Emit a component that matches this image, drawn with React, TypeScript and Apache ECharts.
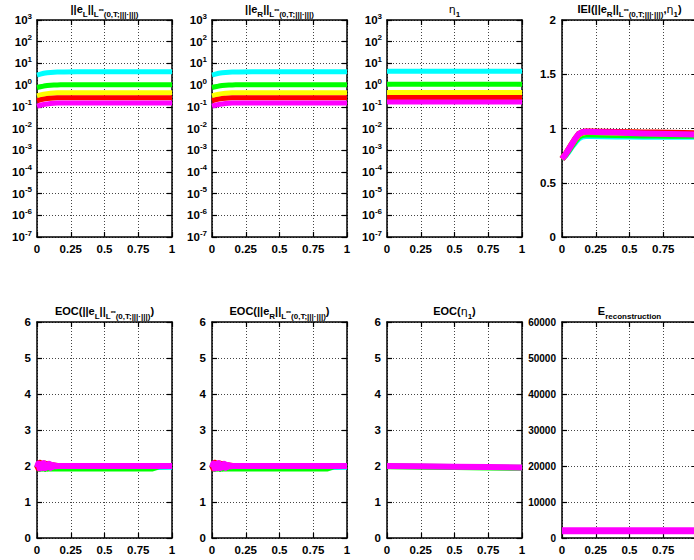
import React, { useEffect, useRef } from "react";
import * as echarts from "echarts";

// ---------- data ----------
const xNorm = [0, 0.025, 0.05, 0.075, 0.1, 0.125, 0.15, 0.175, 0.2, 0.3, 0.4, 0.5, 0.6, 0.7, 0.8, 0.9, 1];
const eLCyan = [2.9, 3.2, 3.5, 3.7, 3.85, 3.95, 4.0, 4.05, 4.05, 4.1, 4.1, 4.1, 4.1, 4.1, 4.1, 4.1, 4.1];
const eLGreen = [0.78, 0.84, 0.9, 0.95, 0.98, 1.0, 1.02, 1.03, 1.03, 1.03, 1.03, 1.03, 1.03, 1.03, 1.03, 1.03, 1.03];
const eLYellow = [0.32, 0.35, 0.38, 0.4, 0.42, 0.43, 0.44, 0.44, 0.44, 0.44, 0.44, 0.44, 0.44, 0.44, 0.44, 0.44, 0.44];
const eLRed = [0.19, 0.21, 0.225, 0.24, 0.25, 0.255, 0.26, 0.26, 0.26, 0.26, 0.26, 0.26, 0.26, 0.26, 0.26, 0.26, 0.26];
const eLMagenta = [0.107, 0.118, 0.128, 0.136, 0.142, 0.146, 0.15, 0.15, 0.15, 0.15, 0.15, 0.15, 0.15, 0.15, 0.15, 0.15, 0.15];

const eRCyan = [2.9, 3.2, 3.5, 3.7, 3.85, 3.95, 4.0, 4.05, 4.05, 4.1, 4.1, 4.1, 4.1, 4.1, 4.1, 4.1, 4.1];
const eRGreen = [0.78, 0.84, 0.9, 0.95, 0.98, 1.0, 1.02, 1.03, 1.03, 1.03, 1.03, 1.03, 1.03, 1.03, 1.03, 1.03, 1.03];
const eRYellow = [0.32, 0.35, 0.38, 0.4, 0.42, 0.43, 0.44, 0.44, 0.44, 0.44, 0.44, 0.44, 0.44, 0.44, 0.44, 0.44, 0.44];
const eRRed = [0.19, 0.21, 0.225, 0.24, 0.25, 0.255, 0.26, 0.26, 0.26, 0.26, 0.26, 0.26, 0.26, 0.26, 0.26, 0.26, 0.26];
const eRMagenta = [0.107, 0.118, 0.128, 0.136, 0.142, 0.146, 0.15, 0.15, 0.15, 0.15, 0.15, 0.15, 0.15, 0.15, 0.15, 0.15, 0.15];

const xEta = [0, 0.5, 1];
const etaCyan = [4.3, 4.3, 4.3];
const etaGreen = [1.1, 1.1, 1.1];
const etaYellow = [0.46, 0.46, 0.46];
const etaRed = [0.27, 0.27, 0.27];
const etaMagenta = [0.165, 0.165, 0.165];

const ieiCyan = [0.72, 0.75, 0.79, 0.835, 0.875, 0.91, 0.925, 0.93, 0.93, 0.928, 0.927, 0.926, 0.925, 0.925, 0.924, 0.924, 0.923];
const ieiGreen = [0.72, 0.755, 0.8, 0.845, 0.89, 0.925, 0.94, 0.945, 0.945, 0.942, 0.94, 0.938, 0.936, 0.935, 0.934, 0.933, 0.932];
const ieiYellow = [0.72, 0.76, 0.81, 0.86, 0.905, 0.945, 0.96, 0.967, 0.967, 0.965, 0.963, 0.961, 0.959, 0.957, 0.955, 0.953, 0.951];
const ieiRed = [0.72, 0.76, 0.81, 0.86, 0.91, 0.95, 0.965, 0.972, 0.972, 0.97, 0.968, 0.966, 0.964, 0.962, 0.96, 0.958, 0.956];
const ieiMagenta = [0.72, 0.76, 0.81, 0.86, 0.91, 0.95, 0.965, 0.97, 0.97, 0.966, 0.962, 0.958, 0.955, 0.952, 0.949, 0.946, 0.944];

const xEoc = [0, 0.01, 0.02, 0.03, 0.04, 0.05, 0.06, 0.07, 0.08, 0.09, 0.1, 0.11, 0.12, 0.13, 0.14, 0.15, 0.2, 0.3, 0.4, 0.5, 0.6, 0.7, 0.8, 0.85, 0.9, 1];
const eocLCyan = [1.95, 2.02, 1.94, 2.0, 1.96, 2.01, 1.95, 1.99, 1.96, 1.98, 1.96, 1.97, 1.96, 1.96, 1.96, 1.96, 1.96, 1.96, 1.96, 1.96, 1.96, 1.96, 1.96, 1.96, 1.97, 1.98];
const eocLGreen = [1.94, 2.03, 1.92, 2.02, 1.93, 2.03, 1.92, 2.0, 1.93, 1.98, 1.93, 1.95, 1.93, 1.93, 1.93, 1.93, 1.93, 1.93, 1.93, 1.93, 1.93, 1.93, 1.93, 1.93, 1.99, 2.0];
const eocLRed = [2.02, 1.94, 2.09, 1.95, 2.06, 1.96, 2.07, 1.97, 2.05, 1.98, 2.03, 1.99, 2.02, 2.0, 2.01, 2.0, 2.0, 2.0, 2.0, 2.0, 2.0, 2.0, 2.0, 2.0, 2.0, 2.0];
const eocLMagenta = [1.96, 2.07, 1.93, 2.05, 1.95, 2.08, 1.94, 2.04, 1.97, 2.06, 1.95, 2.03, 1.98, 2.02, 1.99, 2.0, 2.0, 2.0, 2.0, 2.0, 2.0, 2.0, 2.0, 2.0, 2.0, 2.0];

const eocRCyan = [1.95, 2.02, 1.94, 2.0, 1.96, 2.01, 1.95, 1.99, 1.96, 1.98, 1.96, 1.97, 1.96, 1.96, 1.96, 1.96, 1.96, 1.96, 1.96, 1.96, 1.96, 1.96, 1.96, 1.96, 1.97, 1.98];
const eocRGreen = [1.94, 2.03, 1.92, 2.02, 1.93, 2.03, 1.92, 2.0, 1.93, 1.98, 1.93, 1.95, 1.93, 1.93, 1.93, 1.93, 1.93, 1.93, 1.93, 1.93, 1.93, 1.93, 1.93, 1.93, 1.99, 2.0];
const eocRRed = [2.02, 1.94, 2.09, 1.95, 2.06, 1.96, 2.07, 1.97, 2.05, 1.98, 2.03, 1.99, 2.02, 2.0, 2.01, 2.0, 2.0, 2.0, 2.0, 2.0, 2.0, 2.0, 2.0, 2.0, 2.0, 2.0];
const eocRMagenta = [1.96, 2.07, 1.93, 2.05, 1.95, 2.08, 1.94, 2.04, 1.97, 2.06, 1.95, 2.03, 1.98, 2.02, 1.99, 2.0, 2.0, 2.0, 2.0, 2.0, 2.0, 2.0, 2.0, 2.0, 2.0, 2.0];

const xEocEta = [0, 0.25, 0.5, 0.75, 1];
const eocEtaGreen = [1.99, 1.98, 1.97, 1.96, 1.95];
const eocEtaMagenta = [2.0, 1.99, 1.98, 1.97, 1.96];

const xRec = [0, 0.5, 1];
const recMagenta = [2000, 2000, 2000];

const C_CYAN = "#00ffff";
const C_GREEN = "#00ff00";
const C_YELLOW = "#ffff00";
const C_RED = "#ff0000";
const C_MAGENTA = "#ff00ff";

const FONT = '"Liberation Sans", Arial, Helvetica, sans-serif';

const NORM = "{s|L}{sup|∞}{s|(0,T;|||·|||)}";
const titles = [
  "{m|||e}{s|L}{m|||}" + NORM,
  "{m|||e}{s|R}{m|||}" + NORM,
  "{g|η}{s|1}",
  "{m|IEI(||e}{s|R}{m|||}" + NORM + "{m|,}{g|η}{s|1}{m|)}",
  "{m|EOC(||e}{s|L}{m|||}" + NORM + "{m|)}",
  "{m|EOC(||e}{s|R}{m|||}" + NORM + "{m|)}",
  "{m|EOC(}{g|η}{s|1}{m|)}",
  "{m|E}{s|reconstruction}",
];

export default function App() {
  const ref = useRef<HTMLDivElement>(null);
  useEffect(() => {
    if (!ref.current) return;
    const chart = echarts.init(ref.current, undefined, { renderer: "svg" });

    const cols = [37, 212, 387, 562];
    const W = 135;
    const rows = [
      { top: 20, h: 217 },
      { top: 322, h: 216 },
    ];

    type S = [number[], number[], string, number];
    type Panel = { y: any; series: S[]; labelSize?: number };
    const logY = { type: "log", logBase: 10, min: 1e-7, max: 1e3, interval: 1 };
    const panels: Panel[] = [
      { y: logY, series: [[xNorm, eLCyan, C_CYAN, 5], [xNorm, eLGreen, C_GREEN, 5], [xNorm, eLYellow, C_YELLOW, 5], [xNorm, eLRed, C_RED, 5], [xNorm, eLMagenta, C_MAGENTA, 5]] },
      { y: logY, series: [[xNorm, eRCyan, C_CYAN, 5], [xNorm, eRGreen, C_GREEN, 5], [xNorm, eRYellow, C_YELLOW, 5], [xNorm, eRRed, C_RED, 5], [xNorm, eRMagenta, C_MAGENTA, 5]] },
      { y: logY, series: [[xEta, etaCyan, C_CYAN, 5], [xEta, etaGreen, C_GREEN, 5], [xEta, etaYellow, C_YELLOW, 5], [xEta, etaRed, C_RED, 5], [xEta, etaMagenta, C_MAGENTA, 5]] },
      { y: { type: "value", min: 0, max: 2, interval: 0.5 }, series: [[xNorm, ieiCyan, C_CYAN, 6], [xNorm, ieiGreen, C_GREEN, 6], [xNorm, ieiYellow, C_YELLOW, 6], [xNorm, ieiRed, C_RED, 6], [xNorm, ieiMagenta, C_MAGENTA, 6]] },
      { y: { type: "value", min: 0, max: 6, interval: 1 }, series: [[xEoc, eocLCyan, C_CYAN, 6], [xEoc, eocLGreen, C_GREEN, 6], [xEoc, eocLRed, C_RED, 6], [xEoc, eocLMagenta, C_MAGENTA, 6]] },
      { y: { type: "value", min: 0, max: 6, interval: 1 }, series: [[xEoc, eocRCyan, C_CYAN, 6], [xEoc, eocRGreen, C_GREEN, 6], [xEoc, eocRRed, C_RED, 6], [xEoc, eocRMagenta, C_MAGENTA, 6]] },
      { y: { type: "value", min: 0, max: 6, interval: 1 }, series: [[xEocEta, eocEtaGreen, C_GREEN, 6], [xEocEta, eocEtaMagenta, C_MAGENTA, 6]] },
      { y: { type: "value", min: 0, max: 60000, interval: 10000 }, series: [[xRec, recMagenta, C_MAGENTA, 7]], labelSize: 10 },
    ];

    const lineStyle = { color: "#000", width: 1.5 };
    const tick = { show: true, inside: true, length: 5, lineStyle: { color: "#000", width: 1.2 } };
    const split = { show: true, lineStyle: { color: "#444", width: 1, type: [1, 2] as any } };
    const labelBase = { color: "#000", fontWeight: "bold" as const, fontSize: 11.5, fontFamily: FONT };

    const grid: any[] = [];
    const xAxis: any[] = [];
    const yAxis: any[] = [];
    const series: any[] = [];
    const graphic: any[] = [];

    panels.forEach((p, i) => {
      const r = rows[Math.floor(i / 4)];
      const left = cols[i % 4];
      grid.push({ left, top: r.top, width: W, height: r.h, containLabel: false });
      const xb = { type: "value", min: 0, max: 1, interval: 0.25, gridIndex: i };
      xAxis.push({
        ...xb, position: "bottom",
        axisLine: { show: true, onZero: false, lineStyle },
        axisTick: tick, splitLine: split,
        axisLabel: { ...labelBase, margin: 6, formatter: (v: number) => String(v) },
      });
      xAxis.push({
        ...xb, position: "top",
        axisLine: { show: true, onZero: false, lineStyle },
        axisTick: tick, splitLine: { show: false }, axisLabel: { show: false },
      });
      const isLog = p.y.type === "log";
      const yLabel: any = isLog
        ? {
            ...labelBase, margin: 5,
            formatter: (v: number) => `{b|10}{e|${Math.round(Math.log10(v))}}`,
            rich: {
              b: { fontSize: 11.5, fontWeight: "bold", fontFamily: FONT, color: "#000", lineHeight: 16 },
              e: { fontSize: 8, fontWeight: "bold", fontFamily: FONT, color: "#000", verticalAlign: "top", lineHeight: 9 },
            },
          }
        : { ...labelBase, fontSize: p.labelSize || labelBase.fontSize, margin: 6, formatter: (v: number) => String(v) };
      yAxis.push({
        ...p.y, gridIndex: i, position: "left",
        axisLine: { show: true, onZero: false, lineStyle },
        axisTick: tick, splitLine: split, axisLabel: yLabel,
      });
      yAxis.push({
        ...p.y, gridIndex: i, position: "right",
        axisLine: { show: true, onZero: false, lineStyle },
        axisTick: tick, splitLine: { show: false }, axisLabel: { show: false },
      });
      p.series.forEach(([xs, ys, color, w]) => {
        series.push({
          type: "line", xAxisIndex: i * 2, yAxisIndex: i * 2,
          data: xs.map((x, k) => [x, ys[k]]),
          showSymbol: false, symbol: "none",
          lineStyle: { color, width: w, cap: "butt", join: "round" },
          itemStyle: { color }, silent: true, clip: true,
        });
      });
      graphic.push({
        type: "text",
        x: left + W / 2,
        y: r.top - 11,
        style: {
          text: titles[i],
          align: "center",
          verticalAlign: "middle",
          rich: {
            m: { fontSize: 11, fontWeight: "bold", fontFamily: FONT, fill: "#000", lineHeight: 18 },
            g: { fontSize: 11, fontWeight: "normal", fontFamily: '"DejaVu Sans", sans-serif', fill: "#000", lineHeight: 18 },
            s: { fontSize: 8, fontWeight: "bold", fontFamily: FONT, fill: "#000", verticalAlign: "bottom", lineHeight: 10 },
            sup: { fontSize: 7, fontWeight: "bold", fontFamily: FONT, fill: "#000", verticalAlign: "middle", lineHeight: 10 },
          },
        },
      });
    });

    chart.setOption({
      animation: false,
      backgroundColor: "#fff",
      grid, xAxis, yAxis, series, graphic,
    });
    return () => chart.dispose();
  }, []);

  return (
    <div style={{ position: "fixed", left: 0, top: 0, width: 694, height: 560, overflow: "hidden", background: "#fff" }}>
      <div ref={ref} style={{ width: 730, height: 560 }} />
    </div>
  );
}
